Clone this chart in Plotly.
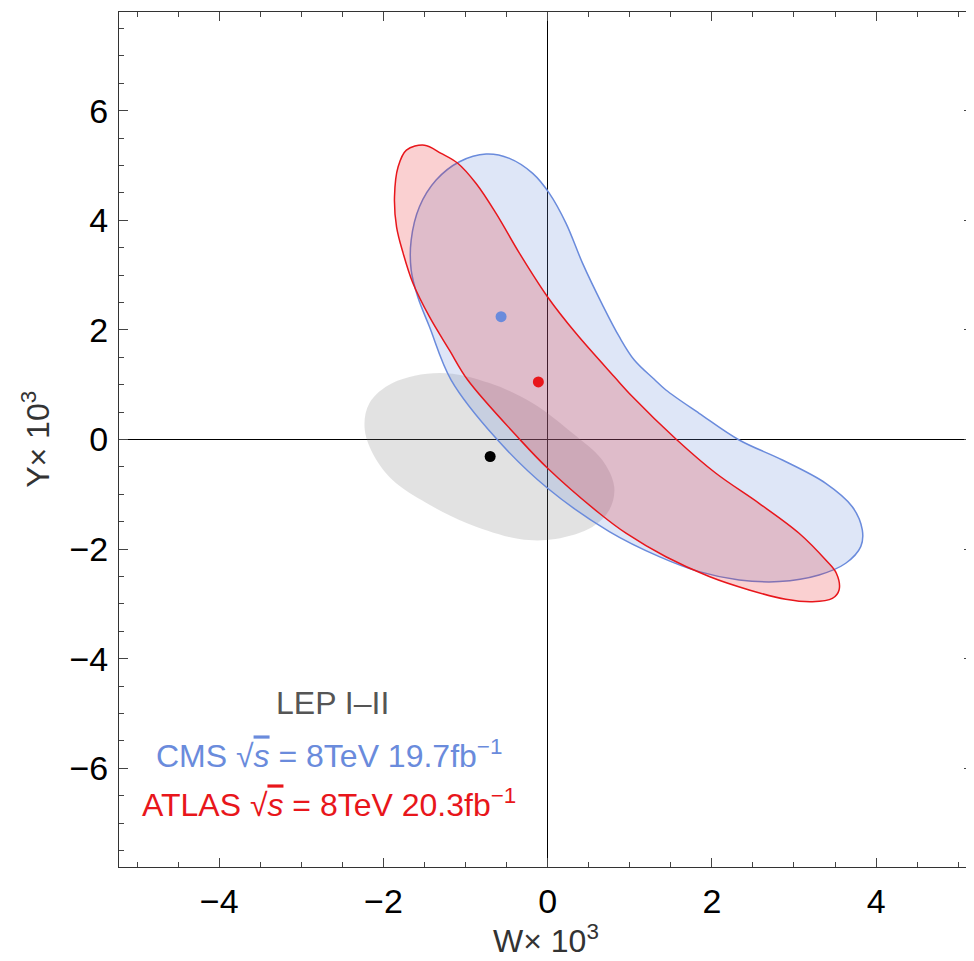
import plotly.graph_objects as go

# ---- data (W x 10^3, Y x 10^3) ----
lep_w = [-1.318, -0.709, -0.186, 0.300, 0.665, 0.811, 0.751, 0.544, 0.094, -0.344,
         -0.989, -1.476, -1.889, -2.133, -2.230, -2.169, -1.889, -1.318]
lep_y = [1.213, 1.030, 0.666, 0.119, -0.374, -0.866, -1.286, -1.596, -1.815, -1.815,
         -1.523, -1.158, -0.739, -0.246, 0.228, 0.666, 1.030, 1.213]

cms_w = [-0.749, -1.074, -1.358, -1.561, -1.662, -1.662, -1.582, -1.439, -1.175, -0.628,
         0.000, 0.751, 1.359, 1.845, 2.332, 2.819, 3.305, 3.630, 3.813, 3.832,
         3.710, 3.387, 2.859, 2.332, 1.845, 1.440, 1.298, 1.055, 0.872, 0.669, 0.426,
         0.224, 0.021, -0.182, -0.466, -0.749]
cms_y = [5.207, 5.067, 4.733, 4.246, 3.639, 3.091, 2.604, 2.057, 1.085, 0.022,
         -0.890, -1.680, -2.137, -2.411, -2.562, -2.593, -2.471, -2.258, -1.955, -1.651,
         -1.226, -0.799, -0.374, -0.009, 0.478, 0.903, 1.098, 1.450, 1.875, 2.453, 3.214,
         3.943, 4.490, 4.855, 5.129, 5.207]

atlas_w = [-1.500, -1.720, -1.820, -1.865, -1.840, -1.760, -1.640, -1.440, -1.196, -0.973,
           -0.344, 0.000, 0.629, 0.954, 1.440, 1.967, 2.454, 2.900, 3.224, 3.467,
           3.549, 3.516, 3.387, 3.062, 2.575, 2.049, 1.562, 1.034, 0.812, 0.345,
           0.000, -0.344, -0.628, -0.871, -1.095, -1.297, -1.500]
atlas_y = [5.370, 5.280, 4.980, 4.430, 3.880, 3.400, 2.850, 2.240, 1.630, 1.085,
           0.010, -0.525, -1.346, -1.710, -2.140, -2.500, -2.745, -2.915, -2.960, -2.900,
           -2.745, -2.440, -2.200, -1.710, -1.164, -0.616, 0.010, 0.780, 1.145, 1.937,
           2.600, 3.400, 4.125, 4.670, 5.040, 5.220, 5.370]

best_w = [-0.70, -0.567, -0.113]
best_y = [-0.31, 2.24, 1.05]
best_col = ["#000000", "#6a8bdc", "#e8161b"]

x_ticks = [-4, -2, 0, 2, 4]
y_ticks = [-6, -4, -2, 0, 2, 4, 6]

SQRT_S = "\u221a<span style='text-decoration:overline'><i>s</i></span>"
labels = ["LEP I\u2013II",
          "CMS " + SQRT_S + " = 8TeV 19.7fb<sup>\u22121</sup>",
          "ATLAS " + SQRT_S + " = 8TeV 20.3fb<sup>\u22121</sup>"]
label_w = [-2.62, -2.66, -2.66]
label_y = [-4.81, -5.73, -6.63]
label_col = ["#555555", "#6a8bdc", "#e8161b"]

x_title = "W\u00d7 10<sup>3</sup>"
y_title = "Y\u00d7 10<sup>3</sup>"

FONT = "Liberation Sans, Arial, sans-serif"

fig = go.Figure()
fig.add_trace(go.Scatter(x=lep_w, y=lep_y, mode="lines", fill="toself",
                         line=dict(width=0, shape="spline", smoothing=1, color="rgba(0,0,0,0)"),
                         fillcolor="rgba(120,120,120,0.21)", hoverinfo="skip"))
fig.add_trace(go.Scatter(x=cms_w, y=cms_y, mode="lines", fill="toself",
                         line=dict(width=1.5, shape="spline", smoothing=1, color="#6a8bdc"),
                         fillcolor="rgba(106,139,220,0.22)", hoverinfo="skip"))
fig.add_trace(go.Scatter(x=atlas_w, y=atlas_y, mode="lines", fill="toself",
                         line=dict(width=1.5, shape="spline", smoothing=1, color="#e8161b"),
                         fillcolor="rgba(232,22,27,0.2)", hoverinfo="skip"))
fig.add_trace(go.Scatter(x=best_w, y=best_y, mode="markers",
                         marker=dict(size=11, color=best_col), hoverinfo="skip"))

for t, xw, yy, c in zip(labels, label_w, label_y, label_col):
    fig.add_annotation(x=xw, y=yy, xref="x", yref="y", text=t, showarrow=False,
                       xanchor="center", yanchor="middle",
                       font=dict(family=FONT, size=32, color=c))

# axis titles as paper-anchored text
fig.add_annotation(x=0.5, y=-0.084, xref="paper", yref="paper", text=x_title, showarrow=False,
                   xanchor="center", yanchor="middle", font=dict(family=FONT, size=32, color="#333333"))
fig.add_annotation(x=-0.098, y=0.5, xref="paper", yref="paper", text=y_title, showarrow=False,
                   textangle=-90, xanchor="center", yanchor="middle",
                   font=dict(family=FONT, size=32, color="#333333"))

axis_common = dict(showgrid=False, zeroline=True, zerolinecolor="black", zerolinewidth=1,
                   showline=True, linecolor="#333333", linewidth=1, mirror="ticks",
                   ticks="inside", ticklen=9, tickcolor="#444444", tickwidth=1,
                   minor=dict(ticks="inside", ticklen=5, dtick=0.5, tickcolor="#444444", tickwidth=1),
                   tickfont=dict(family=FONT, size=34, color="black"), automargin=False)

fig.update_xaxes(range=[-5.22, 5.18], tickvals=x_ticks,
                 ticktext=["\u2212" + str(-v) if v < 0 else str(v) for v in x_ticks],
                 ticklabelstandoff=4, **axis_common)
fig.update_yaxes(range=[-7.8, 7.8], tickvals=y_ticks,
                 ticktext=["\u2212" + str(-v) if v < 0 else str(v) for v in y_ticks],
                 ticklabelstandoff=3, **axis_common)

# the page body adds an 8px offset, so the figure is 8px smaller than the window
fig.update_layout(width=966, height=953, margin=dict(l=111, r=1, t=4, b=94, autoexpand=False),
                  paper_bgcolor="white", plot_bgcolor="white", showlegend=False)

fig.write_html("out.html")
